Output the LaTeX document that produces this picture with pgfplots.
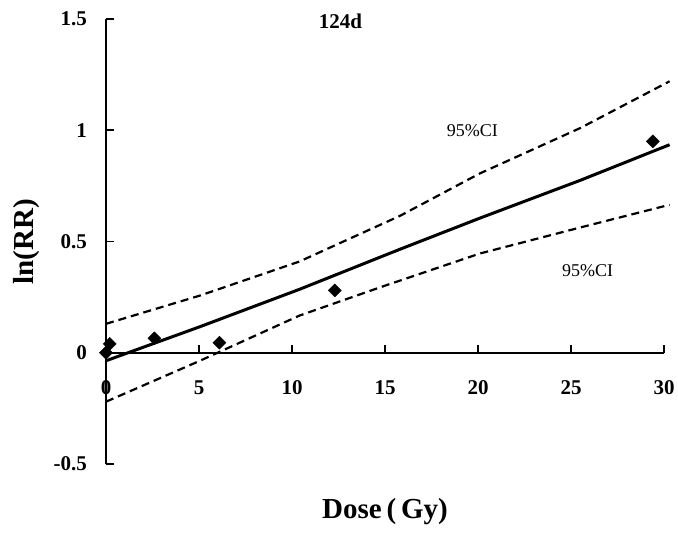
\documentclass[border=0pt]{standalone}
\usepackage{fontspec}
\setmainfont{Liberation Serif}
\usepackage{pgfplots}
\usepackage{pgfplotstable}
\pgfplotsset{compat=1.18}

\pgfplotstableread{
x y
0.0 0.00
0.2 0.04
2.6 0.065
6.1 0.045
12.3 0.28
29.4 0.95
}\tabobs

\pgfplotstableread{
x y
0.0 -0.036
5.05 0.117
10.4 0.285
15.8 0.465
20.1 0.605
25.5 0.775
30.3 0.935
}\tabfit

\pgfplotstableread{
x y
0.0 0.13
5.05 0.257
10.4 0.41
12.5 0.49
15.8 0.615
20.1 0.806
25.5 1.01
30.3 1.22
}\tabup

\pgfplotstableread{
x y
0.0 -0.22
5.05 -0.036
10.4 0.167
14.7 0.293
20.1 0.446
25.5 0.563
30.3 0.665
}\tablo

\begin{document}
\begin{tikzpicture}
\begin{axis}[
  name=ax,
  scale only axis,
  width=558pt, height=445pt,
  xmin=0, xmax=30, ymin=-0.5, ymax=1.5,
  clip=false,
  axis y line=left,
  axis x line=bottom,
  axis x line shift=-111.25pt,
  axis line style={-, black, line width=1.8pt},
  every outer x axis line/.append style={-},
  every outer y axis line/.append style={-},
  hide obscured x ticks=false,
  hide obscured y ticks=false,
  xtick={0,5,10,15,20,25,30},
  xticklabels={0,5,10,15,20,25,30},
  ytick={-0.5,0,0.5,1,1.5},
  yticklabels={-0.5,0,0.5,1,1.5},
  xtick align=inside, ytick align=inside,
  major tick length=8pt,
  every tick/.style={black, line width=1.6pt},
  ticklabel style={font=\bfseries\fontsize{21}{25}\selectfont, inner sep=0pt},
  xticklabel style={anchor=center, yshift=-35pt},
  yticklabel style={anchor=east, xshift=-19pt},
  xlabel={\textbf{Dose\,(\,Gy)}},
  ylabel={\textbf{ln(RR)}},
  xlabel style={font=\fontsize{29}{34}\selectfont, at={(axis description cs:0.5,0)}, anchor=center, yshift=-48pt},
  ylabel style={font=\fontsize{29}{34}\selectfont, at={(axis description cs:-0.1416,0.5)}, anchor=center},
]
\addplot[black, line width=2.2pt, dash pattern=on 8pt off 5pt] table[x=x,y=y] {\tabup};
\addplot[black, line width=2.2pt, dash pattern=on 8pt off 5pt] table[x=x,y=y] {\tablo};
\addplot[black, line width=3pt] table[x=x,y=y] {\tabfit};
\addplot[only marks, mark=square*, mark size=4.6pt, mark options={rotate=45, fill=black, draw=black}] table[x=x,y=y] {\tabobs};
\node[font=\bfseries\fontsize{21}{25}\selectfont] at (axis cs:12.6,1.49) {124d};
\node[font=\fontsize{18}{22}\selectfont] at (axis cs:19.7,1.0) {95\%CI};
\node[font=\fontsize{18}{22}\selectfont] at (axis cs:25.9,0.37) {95\%CI};
\end{axis}
\pgfresetboundingbox
\path ([shift={(-106pt,-71pt)}]ax.south west) rectangle ([shift={(14pt,19pt)}]ax.north east);
\end{tikzpicture}
\end{document}
